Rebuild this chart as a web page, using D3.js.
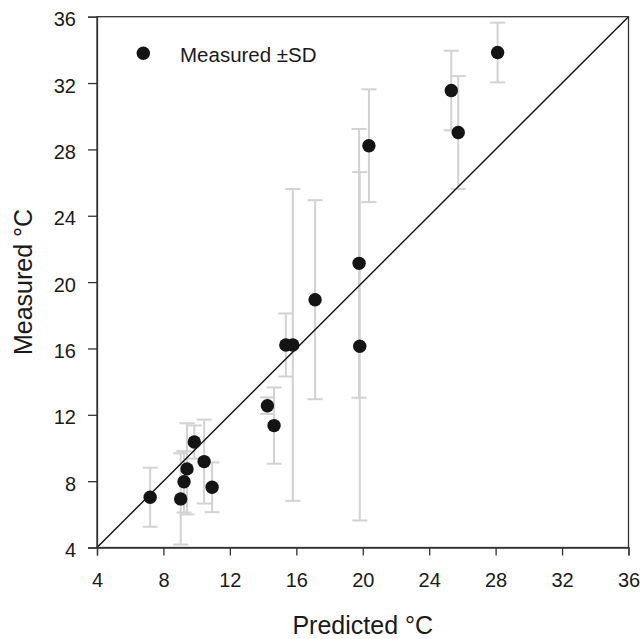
<!DOCTYPE html>
<html>
<head>
<meta charset="utf-8">
<script src="https://cdn.jsdelivr.net/npm/d3@7"></script>
<style>
  body { margin: 0; background: #fff; }
  text { font-family: "Liberation Sans", Arial, sans-serif; fill: #1a1a1a; }
</style>
</head>
<body>
<div id="chart"></div>
<script>
// predicted vs measured temperature, with SD of measurement
var predicted = [7.2, 9.04, 9.24, 9.42, 9.86, 10.45, 10.93, 14.26, 14.66, 15.37, 15.79, 17.13, 19.78, 19.82, 20.37, 25.33, 25.75, 28.12];
var measured = [7.03, 6.93, 7.96, 8.74, 10.36, 9.18, 7.63, 12.55, 11.35, 16.21, 16.21, 18.94, 21.13, 16.13, 28.22, 31.55, 29.02, 33.84];
var sd = [1.78, 2.75, 1.85, 2.75, 1.0, 2.53, 1.5, 0.5, 2.3, 1.9, 9.4, 6.0, 8.1, 10.5, 3.4, 2.4, 3.4, 1.8];
var ticks = [4, 8, 12, 16, 20, 24, 28, 32, 36];
var legendLabel = "Measured \u00b1SD";

var width = 640, height = 639;
var margin = { top: 16.7, right: 11.5, bottom: 91.5, left: 97 };

var svg = d3.select("#chart")
    .append("svg")
    .attr("width", width)
    .attr("height", height);

var x = d3.scaleLinear().domain([4, 36]).range([margin.left, width - margin.right]);
var y = d3.scaleLinear().domain([4, 36]).range([height - margin.bottom, margin.top]);

var data = predicted.map(function (p, i) {
    return { p: p, m: measured[i], sd: sd[i] };
});

// error bars
var bars = svg.append("g")
    .attr("stroke", "#d2d2d2")
    .attr("stroke-width", 2)
    .attr("fill", "none");

data.forEach(function (d) {
    bars.append("line")
        .attr("x1", x(d.p)).attr("x2", x(d.p))
        .attr("y1", y(d.m - d.sd)).attr("y2", y(d.m + d.sd));
    [d.m - d.sd, d.m + d.sd].forEach(function (v) {
        bars.append("line")
            .attr("x1", x(d.p) - 7.5).attr("x2", x(d.p) + 7.5)
            .attr("y1", y(v)).attr("y2", y(v));
    });
});

// 1:1 line
svg.append("line")
    .attr("x1", x(4)).attr("y1", y(4))
    .attr("x2", x(36)).attr("y2", y(36))
    .attr("stroke", "#111")
    .attr("stroke-width", 1.4);

// points
svg.selectAll("circle.pt")
    .data(data)
    .enter()
    .append("circle")
    .attr("class", "pt")
    .attr("cx", function (d) { return x(d.p); })
    .attr("cy", function (d) { return y(d.m); })
    .attr("r", 6.7)
    .attr("fill", "#141414");

// frame
svg.append("rect")
    .attr("x", x(4)).attr("y", y(36))
    .attr("width", x(36) - x(4))
    .attr("height", y(4) - y(36))
    .attr("fill", "none")
    .attr("stroke", "#333")
    .attr("stroke-width", 1.3);

// axes
var xAxis = svg.append("g")
    .attr("transform", "translate(0," + y(4) + ")")
    .call(d3.axisBottom(x).tickValues(ticks).tickSize(8).tickPadding(17));
var yAxis = svg.append("g")
    .attr("transform", "translate(" + x(4) + ",0)")
    .call(d3.axisLeft(y).tickValues(ticks).tickSize(9).tickPadding(12));

[xAxis, yAxis].forEach(function (a) {
    a.select(".domain").attr("stroke", "#333").attr("stroke-width", 1.3);
    a.selectAll(".tick line").attr("stroke", "#333").attr("stroke-width", 1.3);
    a.selectAll(".tick text")
        .style("font-family", "'Liberation Sans', Arial, sans-serif")
        .style("font-size", "20px")
        .attr("fill", "#1a1a1a");
});
yAxis.selectAll(".tick text").attr("dy", "0.45em");

// axis titles
svg.append("text")
    .attr("x", (x(4) + x(36)) / 2)
    .attr("y", 634)
    .attr("text-anchor", "middle")
    .style("font-size", "25px")
    .text("Predicted \u00b0C");

svg.append("text")
    .attr("transform", "translate(32," + 282 + ") rotate(-90)")
    .attr("text-anchor", "middle")
    .style("font-size", "25px")
    .text("Measured \u00b0C");

// legend
svg.append("circle")
    .attr("cx", 143.3)
    .attr("cy", 53.3)
    .attr("r", 6.7)
    .attr("fill", "#141414");
svg.append("text")
    .attr("x", 180)
    .attr("y", 62)
    .style("font-size", "20.5px")
    .text(legendLabel);
</script>
</body>
</html>
